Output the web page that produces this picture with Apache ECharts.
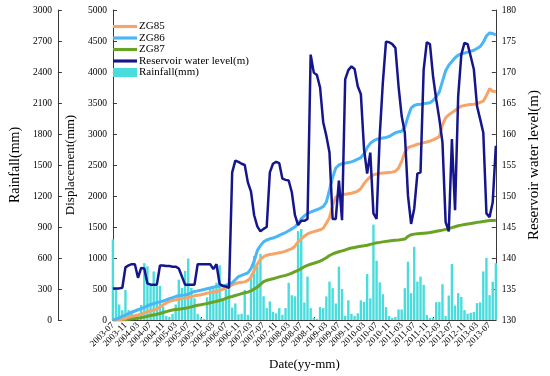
<!DOCTYPE html>
<html><head><meta charset="utf-8">
<script src="https://cdn.jsdelivr.net/npm/echarts@6/dist/echarts.min.js"></script>
<style>html,body{margin:0;padding:0;background:#fff}#c{width:550px;height:376px}</style>
</head><body><div id="c"></div>
<script>
// Categories: monthly, 2003-07 .. 2013-09
const categories = [];
for (let y = 2003, m = 7; categories.length < 123;) {
  categories.push(y + '-' + String(m).padStart(2, '0'));
  m++; if (m > 12) { m = 1; y++; }
}

const rainfall = [
  780,300,150,95,290,95,90,25,40,145,
  550,520,330,470,330,330,130,40,25,60,
  150,390,310,475,595,310,210,60,20,10,
  220,300,310,360,530,200,310,400,120,160,
  55,60,290,50,440,620,520,640,230,115,
  180,80,65,115,50,115,360,240,230,860,
  880,170,420,115,20,10,125,115,228,372,
  308,160,516,300,40,190,60,40,65,190,
  175,445,210,923,574,365,250,125,38,20,
  30,102,102,308,564,260,708,372,420,340,
  48,20,20,173,173,346,38,237,542,140,
  260,224,96,61,70,77,163,170,470,600,
  240,370,550
];

const zg85 = [
  0,0,5,10,25,45,60,70,80,95,
  115,135,150,160,180,210,245,275,300,315,
  325,335,345,352,362,375,390,400,408,420,
  433,442,450,460,475,495,520,540,565,590,
  600,608,615,640,690,800,900,980,1020,1045,
  1055,1065,1075,1085,1095,1110,1130,1150,1190,1260,
  1310,1350,1390,1410,1425,1440,1455,1480,1560,1650,
  1850,1980,2010,2020,2030,2035,2045,2060,2080,2120,
  2200,2260,2310,2340,2355,2365,2370,2375,2380,2385,
  2400,2450,2560,2700,2780,2800,2815,2835,2845,2860,
  2870,2885,2905,2930,2960,3150,3260,3310,3345,3380,
  3420,3450,3460,3470,3475,3480,3490,3510,3530,3620,
  3730,3690,3680
];

const zg86 = [
  0,15,35,60,80,105,125,145,165,185,
  205,230,250,265,280,292,305,325,345,360,
  378,392,400,405,415,440,460,470,480,492,
  505,518,530,540,548,555,562,580,600,650,
  700,720,740,760,830,950,1120,1200,1260,1290,
  1310,1322,1340,1365,1390,1410,1440,1470,1500,1560,
  1630,1680,1720,1740,1760,1780,1800,1830,1900,2100,
  2300,2450,2500,2520,2530,2540,2550,2570,2595,2620,
  2680,2780,2850,2890,2915,2925,2935,2945,2960,2990,
  3020,3035,3045,3110,3280,3420,3460,3475,3480,3490,
  3495,3505,3540,3600,3680,3850,4020,4110,4170,4230,
  4270,4290,4305,4320,4335,4350,4380,4410,4480,4580,
  4630,4620,4600
];

const zg87 = [
  0,0,0,0,5,12,18,24,30,38,
  48,60,72,82,92,105,120,135,148,160,
  168,175,182,190,200,212,225,238,246,256,
  265,278,290,300,315,330,350,368,380,395,
  410,425,440,450,470,500,530,575,620,640,
  652,665,680,695,708,720,735,755,780,800,
  830,860,880,900,915,932,950,975,1005,1040,
  1065,1085,1100,1115,1130,1148,1160,1170,1180,1190,
  1196,1205,1220,1232,1245,1252,1260,1268,1275,1282,
  1288,1292,1298,1305,1350,1375,1385,1390,1395,1400,
  1405,1410,1420,1430,1440,1450,1462,1475,1490,1505,
  1520,1530,1540,1548,1555,1565,1575,1582,1590,1598,
  1603,1606,1610
];

const waterLevel = [
  135.1,135.1,135.1,135.2,138.5,138.8,139,139,136.8,138.4,
  138.3,135.9,135.7,135.7,135.7,138.8,138.8,138.7,138.7,138.6,
  138.6,138.3,137,135.7,135.7,135.7,135.7,139,139,139,
  139,139,138.2,139,135.8,135.5,135.4,135.2,153.8,155.7,
  155.5,155.2,155,152.2,150.7,146.9,145.1,144.3,144.7,145,
  153.8,155.2,155.5,155.3,152.8,152.6,152.5,150.6,146.9,145.3,
  146,146,146.3,172.8,169.9,169.5,167.5,161.9,159.7,157,
  146.3,146.3,152.5,146.1,168.8,170.3,170.9,170.5,167.7,166.4,
  157.6,153.6,157,147.2,146.3,159.7,168.3,174.9,174.8,174.5,
  173.9,167.7,162.9,160.2,150.1,145.5,148,153.6,153.8,170.4,
  174.8,174.5,169.3,165.6,162.4,158.6,145.8,144.3,159.2,147.7,
  166.1,172.8,174.7,174.5,172.5,170.4,164.5,162.4,160.2,147.2,
  146.6,149,158.1
];

const font = '"Liberation Serif","Times New Roman",serif';
const axisColor = '#3a3a3a';
const lineIcon = 'path://M0,0H23V3H0Z';
function yAxisBase() {
  return {
    type: 'value', nameLocation: 'middle',
    nameTextStyle: { fontFamily: font, fontSize: 14, color: '#000' },
    axisLine: { show: true, lineStyle: { color: axisColor, width: 1 } },
    axisTick: { show: true, inside: true, length: 4, lineStyle: { color: axisColor } },
    axisLabel: { fontFamily: font, fontSize: 9.5, color: '#000', margin: 6, formatter: v => String(v) },
    splitLine: { show: false }
  };
}

const chart = echarts.init(document.getElementById('c'));
chart.setOption({
  animation: false,
  textStyle: { fontFamily: font },
  grid: { left: 97, right: 37, top: 10, bottom: 54 },
  legend: {
    orient: 'vertical', left: 108, top: 16,
    itemWidth: 24, itemHeight: 9, itemGap: 0.5,
    textStyle: { fontFamily: font, fontSize: 11, color: '#000', padding: [0, 0, 0, -3] },
    data: [
      { name: 'ZG85', icon: lineIcon },
      { name: 'ZG86', icon: lineIcon },
      { name: 'ZG87', icon: lineIcon },
      { name: 'Reservoir water level(m)', icon: lineIcon },
      { name: 'Rainfall(mm)', icon: 'rect' }
    ]
  },
  xAxis: {
    type: 'category', data: categories, boundaryGap: false,
    name: 'Date(yy-mm)', nameLocation: 'middle', nameGap: 38,
    nameTextStyle: { fontFamily: font, fontSize: 13, color: '#000' },
    axisLine: { lineStyle: { color: axisColor } },
    axisTick: { inside: true, interval: 1, length: 3, lineStyle: { color: axisColor } },
    axisLabel: { interval: 3, rotate: 45, fontFamily: font, fontSize: 9, color: '#000', margin: 4,
      showMinLabel: true, hideOverlap: false },
    splitLine: { show: false }
  },
  yAxis: [
    Object.assign(yAxisBase(), { name: 'Rainfall(mm)', position: 'left', offset: 55, min: 0, max: 3000, interval: 300, nameGap: 28 }),
    Object.assign(yAxisBase(), { name: 'Displacement(mm)', position: 'left', min: 0, max: 5000, interval: 500, nameGap: 26,
      nameTextStyle: { fontFamily: font, fontSize: 13, color: '#000' } }),
    Object.assign(yAxisBase(), { name: 'Reservoir water level(m)', position: 'right', min: 130, max: 180, interval: 5, nameGap: 20,
      nameTextStyle: { fontFamily: font, fontSize: 15, color: '#000' } })
  ],
  series: [
    { name: 'Rainfall(mm)', type: 'bar', yAxisIndex: 0, data: rainfall, barWidth: 2.4,
      itemStyle: { color: '#4ADCDC' } },
    { name: 'ZG87', type: 'line', yAxisIndex: 1, data: zg87, symbol: 'none',
      lineStyle: { color: '#68A324', width: 3 }, itemStyle: { color: '#68A324' } },
    { name: 'ZG85', type: 'line', yAxisIndex: 1, data: zg85, symbol: 'none',
      lineStyle: { color: '#F7A468', width: 3 }, itemStyle: { color: '#F7A468' } },
    { name: 'ZG86', type: 'line', yAxisIndex: 1, data: zg86, symbol: 'none',
      lineStyle: { color: '#4AB6F5', width: 3 }, itemStyle: { color: '#4AB6F5' } },
    { name: 'Reservoir water level(m)', type: 'line', yAxisIndex: 2, data: waterLevel, symbol: 'none',
      lineStyle: { color: '#16168C', width: 2.5 }, itemStyle: { color: '#16168C' } }
  ]
});
</script></body></html>
